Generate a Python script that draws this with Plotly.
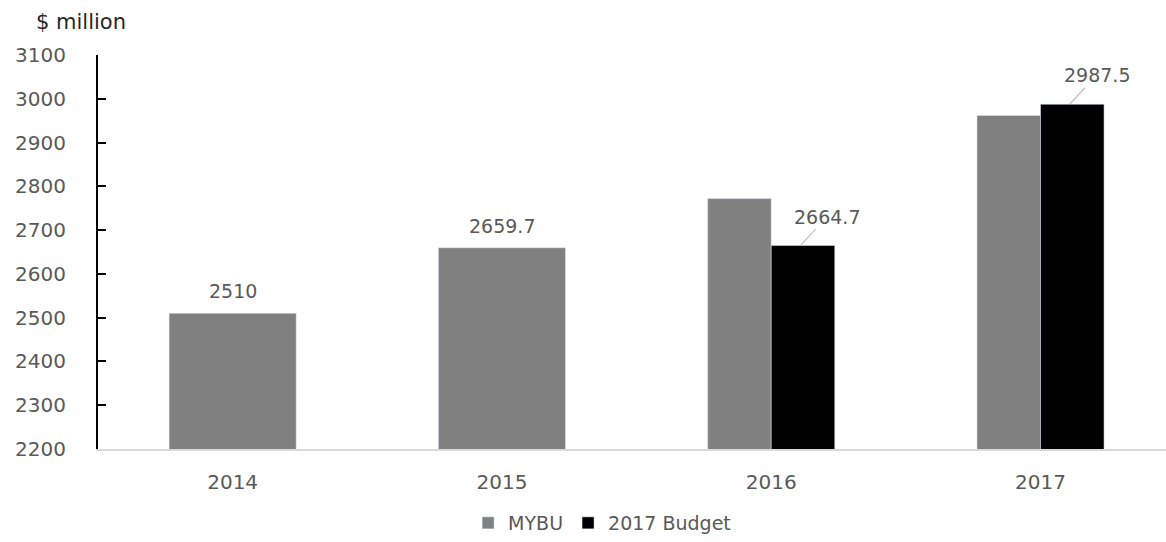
import plotly.graph_objects as go

years = ["2014", "2015", "2016", "2017"]
mybu = [2510, 2659.7, 2772, 2962]
budget = [None, None, 2664.7, 2987.5]
mybu_labels = ["2510", "2659.7", "", ""]
budget_labels = ["", "", "2664.7", "2987.5"]
y_ticks = [2200, 2300, 2400, 2500, 2600, 2700, 2800, 2900, 3000, 3100]

FONT = "DejaVu Sans"
TXT = "#595959"
full_w = 0.472
half_w = full_w / 2

mybu_width = [full_w if b is None else half_w for b in budget]
mybu_offset = [-full_w / 2] * len(years)

fig = go.Figure()
fig.add_trace(go.Bar(
    x=years, y=mybu, name="MYBU", marker_color="#808080",
    width=mybu_width, offset=mybu_offset,
))
fig.add_trace(go.Bar(
    x=years, y=budget, name="2017 Budget", marker_color="#000000",
    width=[half_w] * len(years), offset=[0] * len(years),
))

# labels above the single MYBU bars
for i, (v, lab) in enumerate(zip(mybu, mybu_labels)):
    if not lab:
        continue
    fig.add_annotation(
        x=i, y=v, xref="x", yref="y", text=lab, showarrow=False,
        yshift=22, yanchor="middle",
        font=dict(family=FONT, size=19, color=TXT),
    )

# leader-line labels for the budget bars
for i, (v, lab) in enumerate(zip(budget, budget_labels)):
    if v is None:
        continue
    fig.add_annotation(
        x=i + 0.108, y=v, xref="x", yref="y", text=lab,
        showarrow=True, arrowhead=0, arrowwidth=1.2, arrowcolor="#bfbfbf",
        ax=27, ay=-29, standoff=0,
        font=dict(family=FONT, size=19, color=TXT),
    )

fig.add_annotation(
    text="$ million", xref="paper", yref="paper",
    x=-0.06, y=1.085, xanchor="left", yanchor="middle", showarrow=False,
    font=dict(family=FONT, size=21, color="#262626"),
)

fig.update_layout(
    width=1166, height=542,
    margin=dict(l=98, r=0, t=55, b=91),
    barmode="overlay",
    plot_bgcolor="white", paper_bgcolor="white",
    font=dict(family=FONT, size=19, color=TXT),
    showlegend=True,
    legend=dict(orientation="h", x=0.472, xanchor="center", y=-0.14, yanchor="top",
                font=dict(family=FONT, size=19, color=TXT), traceorder="normal",
                itemwidth=30),
    xaxis=dict(type="category", range=[-0.5, 3.466], showgrid=False,
               showline=True, linecolor="#d9d9d9", linewidth=1.5,
               ticks="", ticklabelstandoff=14,
               tickfont=dict(family=FONT, size=20, color=TXT)),
    yaxis=dict(range=[2200, 3100], tickvals=y_ticks, showgrid=False,
               showline=True, linecolor="black", linewidth=2,
               ticks="inside", ticklen=8, tickcolor="black", tickwidth=2,
               ticklabelstandoff=26, zeroline=False,
               tickfont=dict(family=FONT, size=20, color=TXT)),
)

fig.write_html("out.html")
